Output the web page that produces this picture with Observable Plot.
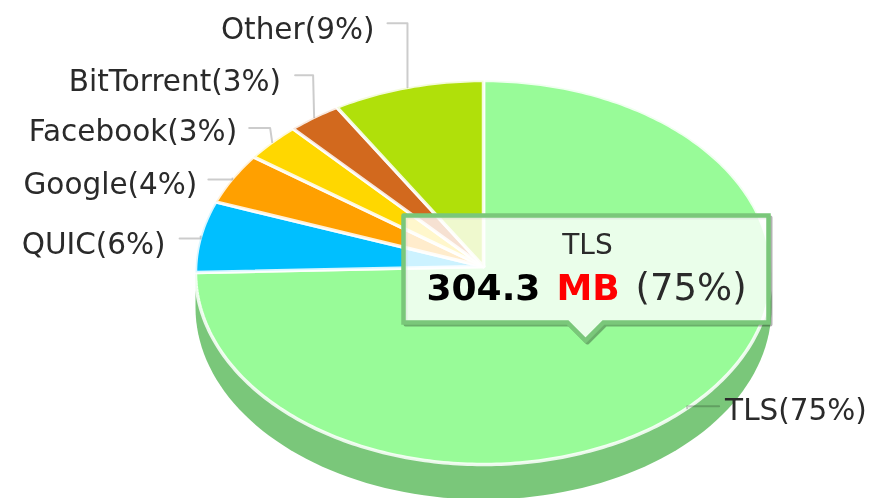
<!DOCTYPE html>
<html>
<head>
<meta charset="utf-8">
<script src="https://cdn.jsdelivr.net/npm/d3@7"></script>
<script src="https://cdn.jsdelivr.net/npm/@observablehq/plot@0.6"></script>
<style>
html,body{margin:0;padding:0;background:#fff}
svg{display:block;filter:blur(0.4px)}
</style>
</head>
<body>
<div id="chart"></div>
<script>
// Data
const names  = ["TLS", "QUIC", "Google", "Facebook", "BitTorrent", "Other"];
const sizeMB = [304.3, 24.3, 17.4, 13.0, 12.2, 34.5];
const colors = ["#98fb98", "#00bfff", "#ffa000", "#ffd700", "#d2691e", "#b0e00a"];

// Layout of the projected pie (pixels)
const W = 877, H = 498;
const cx = 483, cy = 272, apexY = 266, rx = 288, ry = 192, depth = 35;
const sideColor = "#7ac77a";
const fontFamily = "'DejaVu Sans', Verdana, sans-serif";

// Leader offsets per slice, relative to the rim point at the slice's mid-angle
const leaderElbow = [[0, -2],  [0, 2],    [0, 1],   [-2, -14], [-1, -42], [0, -64]];
const leaderEnd   = [[32, -2], [-21, 2],  [-24, 1], [-23, -14], [-19, -42], [-20, -64]];
const labelGap    = [6, -14, -11, -12, -14, -13];
const labelDy     = [4, 6, 5, 3, 6, 6];

const total = d3.sum(sizeMB);
const slices = [];
let acc = 0;
names.forEach((name, i) => {
  const a0 = acc / total * 2 * Math.PI;
  acc += sizeMB[i];
  const a1 = acc / total * 2 * Math.PI;
  slices.push({name, value: sizeMB[i], color: colors[i], a0, a1, mid: (a0 + a1) / 2,
    pct: Math.round(sizeMB[i] / total * 100)});
});
const rimX = a => cx + rx * Math.sin(a);
const rimY = a => cy - ry * Math.cos(a);

const wedgePts = slices.flatMap(s => {
  const n = Math.max(8, Math.ceil((s.a1 - s.a0) * 60));
  const pts = [{name: s.name, color: s.color, x: cx, y: apexY}];
  for (let k = 0; k <= n; ++k) {
    const a = s.a0 + (s.a1 - s.a0) * k / n;
    pts.push({name: s.name, color: s.color, x: rimX(a), y: rimY(a)});
  }
  pts.push({name: s.name, color: s.color, x: cx, y: apexY});
  return pts;
});

const sidePts = d3.range(90, 271, 2).map(deg => {
  const a = deg * Math.PI / 180;
  return {x: rimX(a), y: rimY(a) + depth};
});
sidePts.unshift({x: cx + rx, y: cy});
sidePts.push({x: cx - rx, y: cy});

const leaders = slices.flatMap((s, i) => {
  const ax = rimX(s.mid), ay = rimY(s.mid);
  return [
    {name: s.name, x: ax, y: ay},
    {name: s.name, x: ax + leaderElbow[i][0], y: ay + leaderElbow[i][1]},
    {name: s.name, x: ax + leaderEnd[i][0], y: ay + leaderEnd[i][1]}
  ];
});
const labels = slices.map((s, i) => ({
  text: `${s.name}(${s.pct}%)`,
  x: rimX(s.mid) + leaderEnd[i][0] + labelGap[i],
  y: rimY(s.mid) + leaderEnd[i][1] + labelDy[i],
  anchor: i === 0 ? "start" : "end"
}));

// Tooltip for the highlighted slice
const hi = slices[0];
const boxL = 403, boxR = 768, boxT = 215, boxB = 322, tipX = 585, tipH = 18;
const tooltip = [[boxL, boxT], [boxR, boxT], [boxR, boxB], [tipX + tipH, boxB], [tipX, boxB + tipH],
  [tipX - tipH, boxB], [boxL, boxB], [boxL, boxT]].map(([x, y]) => ({x, y}));

const chart = Plot.plot({
  width: W, height: H,
  margin: 0,
  x: {domain: [0, W], range: [0, W], axis: null},
  y: {domain: [0, H], range: [0, H], axis: null},
  color: {type: "identity"},
  style: {background: "#fff", fontFamily},
  marks: [
    Plot.line(sidePts, {x: "x", y: "y", fill: sideColor, stroke: "none"}),
    Plot.line(wedgePts, {x: "x", y: "y", z: "name", fill: "color", stroke: "#fff", strokeWidth: 3.5, strokeOpacity: 0.85, strokeLinejoin: "round"}),
    Plot.line(leaders, {x: "x", y: "y", z: "name", stroke: "#000", strokeOpacity: 0.2, strokeWidth: 2, curve: "linear"}),
    Plot.text(labels.filter(d => d.anchor === "end"), {x: "x", y: "y", text: "text", textAnchor: "end", fontSize: 29.5, fill: "#2a2a2a"}),
    Plot.text(labels.filter(d => d.anchor === "start"), {x: "x", y: "y", text: "text", textAnchor: "start", fontSize: 29.5, fill: "#2a2a2a"}),
    Plot.line(tooltip, {x: "x", y: "y", stroke: "#000", strokeOpacity: 0.3, strokeWidth: 4, dx: 2, dy: 2, fill: "none"}),
    Plot.line(tooltip, {x: "x", y: "y", fill: "#fff", fillOpacity: 0.8, stroke: sideColor, strokeWidth: 4.5, strokeLinejoin: "miter", strokeMiterlimit: 4}),
    Plot.text([hi.name], {x: () => 587, y: () => 245, text: d => d, fontSize: 28, fill: "#2a2a2a"}),
    Plot.text([hi.value.toFixed(1)], {x: () => 426, y: () => 288, text: d => d, textAnchor: "start", fontSize: 36, fontWeight: "bold", fill: "#000"}),
    Plot.text(["MB"], {x: () => 556, y: () => 288, text: d => d, textAnchor: "start", fontSize: 36, fontWeight: "bold", fill: "#f00"}),
    Plot.text([`(${hi.pct}%)`], {x: () => 635, y: () => 288, text: d => d, textAnchor: "start", fontSize: 37, fill: "#2a2a2a"})
  ]
});
document.getElementById("chart").appendChild(chart);
</script>
</body>
</html>
